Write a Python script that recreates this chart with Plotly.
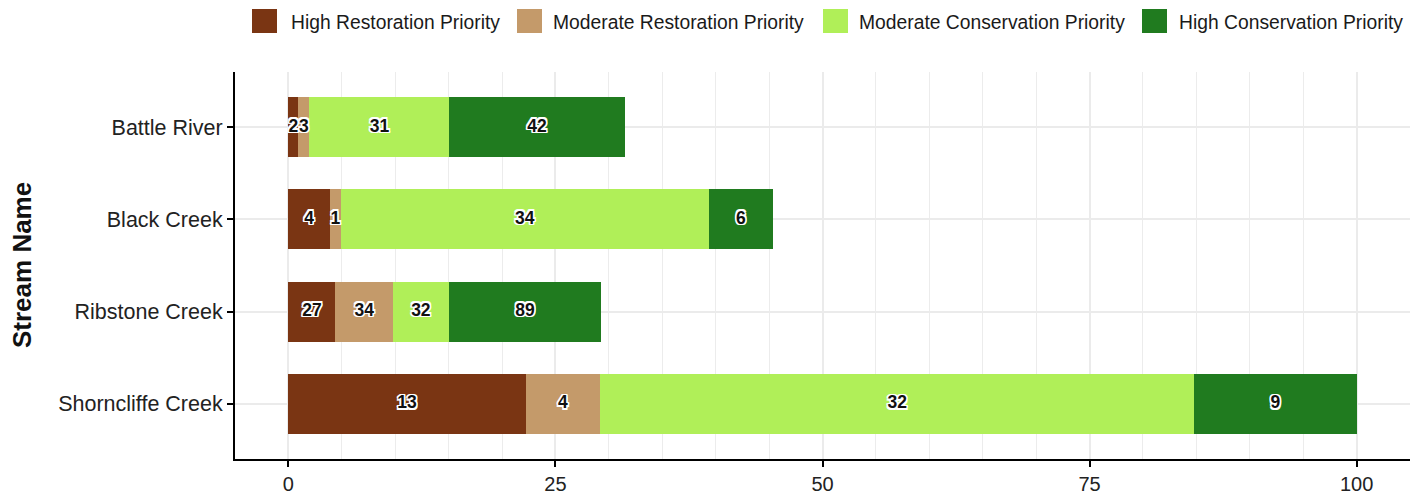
import numpy as np
import plotly.graph_objects as go

# Streams, top to bottom
streams = ["Battle River", "Black Creek", "Ribstone Creek", "Shorncliffe Creek"]

priority_classes = [
    "High Restoration Priority",
    "Moderate Restoration Priority",
    "Moderate Conservation Priority",
    "High Conservation Priority",
]
class_colors = ["#7A3513", "#C49A6A", "#B0EF58", "#207B1F"]

# Share of each stream (percent) in each priority class -> bar lengths
high_restoration_pct = [0.94, 3.87, 4.4, 22.2]
moderate_restoration_pct = [1.03, 1.06, 5.4, 7.0]
moderate_conservation_pct = [13.1, 34.4, 5.2, 55.6]
high_conservation_pct = [16.4, 6.05, 14.3, 15.2]

# Number of sites in each priority class -> segment labels
high_restoration_n = [2, 4, 27, 13]
moderate_restoration_n = [3, 1, 34, 4]
moderate_conservation_n = [31, 34, 32, 32]
high_conservation_n = [42, 6, 89, 9]

# Axis ticks
x_ticks = [0, 25, 50, 75, 100]

pct_series = [high_restoration_pct, moderate_restoration_pct,
              moderate_conservation_pct, high_conservation_pct]
count_series = [high_restoration_n, moderate_restoration_n,
                moderate_conservation_n, high_conservation_n]

FONT = "Liberation Sans, Arial, Helvetica, sans-serif"
HALO = ("1.5px 1.5px 0 #fff, -1.5px -1.5px 0 #fff, 1.5px -1.5px 0 #fff, -1.5px 1.5px 0 #fff, "
        "0 1.5px 0 #fff, 0 -1.5px 0 #fff, 1.5px 0 0 #fff, -1.5px 0 0 #fff")

fig = go.Figure()

running = np.zeros(len(streams))
for name, color, pct, counts in zip(priority_classes, class_colors, pct_series, count_series):
    pct = np.asarray(pct, dtype=float)
    fig.add_trace(go.Bar(
        x=pct, y=streams, orientation="h", name=name,
        marker=dict(color=color, line=dict(width=0)),
        showlegend=False, hoverinfo="x+y+name",
    ))
    centers = running + pct / 2
    fig.add_trace(go.Scatter(
        x=centers, y=streams, mode="text",
        text=[f"<b>{n}</b>" for n in counts],
        textposition="middle center",
        textfont=dict(family=FONT, size=17.5, color="#111111", shadow=HALO),
        showlegend=False, hoverinfo="skip", cliponaxis=False,
    ))
    running = running + pct

# Legend drawn across the top: colour swatch + label per class
L, R, T, B = 235, 14, 72, 38
W, H = 1424, 497
pw, ph = W - L - R, H - T - B


def px_x(px):
    return (px - L) / pw


def px_y(py):
    return (H - B - py) / ph


swatch_left = [252, 517, 823, 1142]
label_left = [289, 551, 857, 1177]
shapes = []
annotations = []
for name, color, sx, tx in zip(priority_classes, class_colors, swatch_left, label_left):
    shapes.append(dict(
        type="rect", xref="paper", yref="paper",
        x0=px_x(sx), x1=px_x(sx + 25), y0=px_y(33), y1=px_y(9),
        fillcolor=color, line=dict(width=0),
    ))
    annotations.append(dict(
        text=name, xref="paper", yref="paper",
        x=px_x(tx), y=px_y(22), xanchor="left", yanchor="middle",
        showarrow=False, font=dict(family=FONT, size=19.3, color="#1a1a1a"),
    ))

annotations.append(dict(
    text="<b>Stream Name</b>", xref="paper", yref="paper",
    x=px_x(22), y=px_y(265), xanchor="center", yanchor="middle",
    textangle=-90, showarrow=False,
    font=dict(family=FONT, size=26, color="#111111"),
))

fig.update_layout(
    width=W, height=H,
    margin=dict(l=L, r=R, t=T, b=B, pad=0, autoexpand=False),
    barmode="stack", bargap=0.35,
    paper_bgcolor="white", plot_bgcolor="white",
    font=dict(family=FONT, color="#1a1a1a"),
    shapes=shapes, annotations=annotations,
    showlegend=False,
)

fig.update_xaxes(
    automargin=False,
    range=[-5, 105], tickmode="array", tickvals=x_ticks,
    ticktext=[str(v) for v in x_ticks],
    showline=True, linecolor="black", linewidth=2, mirror=False,
    ticks="outside", ticklen=6, tickwidth=1.5, tickcolor="black",
    tickfont=dict(family=FONT, size=20, color="#222222"),
    showgrid=True, gridcolor="#EBEBEB", gridwidth=1.5,
    minor=dict(tickmode="linear", tick0=0, dtick=5, showgrid=True,
               gridcolor="#ECECEC", gridwidth=1.3),
    zeroline=False,
)
fig.update_yaxes(
    automargin=False,
    type="category", categoryorder="array", categoryarray=streams,
    range=[3.6, -0.6],
    showline=True, linecolor="black", linewidth=2,
    ticks="outside", ticklen=6, tickwidth=1.5, tickcolor="black",
    tickfont=dict(family=FONT, size=21.5, color="#222222"),
    showgrid=True, gridcolor="#EBEBEB", gridwidth=1.5,
    zeroline=False,
)

fig.write_html("out.html")
